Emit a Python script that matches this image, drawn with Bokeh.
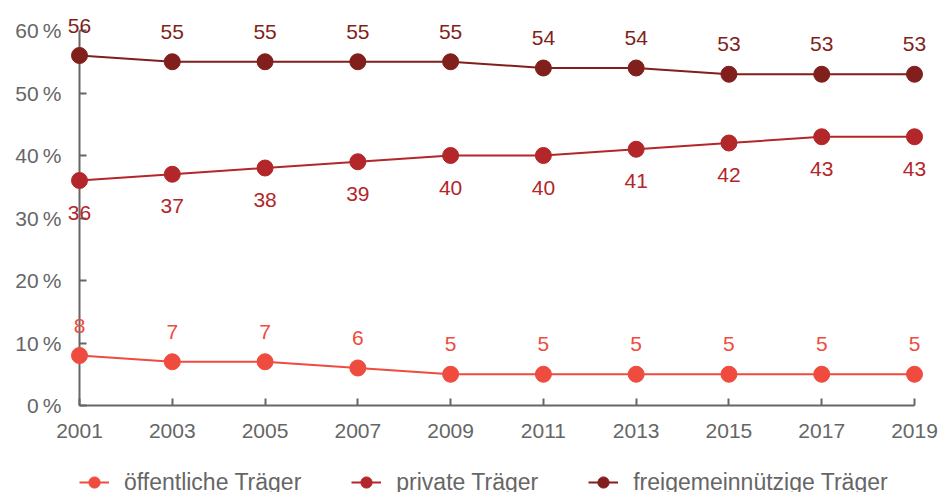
from bokeh.plotting import figure
from bokeh.layouts import column
from bokeh.models import Range1d, FixedTicker, Legend, LegendItem, ColumnDataSource
from bokeh.core.properties import value
from bokeh.embed import file_html
from bokeh.resources import INLINE

years = [2001, 2003, 2005, 2007, 2009, 2011, 2013, 2015, 2017, 2019]
oeffentlich = [8, 7, 7, 6, 5, 5, 5, 5, 5, 5]
privat = [36, 37, 38, 39, 40, 40, 41, 42, 43, 43]
freigemeinnuetzig = [56, 55, 55, 55, 55, 54, 54, 53, 53, 53]
series_names = ["öffentliche Träger", "private Träger", "freigemeinnützige Träger"]
y_ticks = [0, 10, 20, 30, 40, 50, 60]
y_tick_labels = ["0\u2009%", "10\u2009%", "20\u2009%", "30\u2009%", "40\u2009%", "50\u2009%", "60\u2009%"]

colors = ["#EF4B3F", "#B3262A", "#801F1B"]
label_offsets = [-30, 32, -30]
FONT = "Liberation Sans"
GRAY = "#666666"

p = figure(width=939, height=456, output_backend="svg", toolbar_location=None,
           x_range=Range1d(2001, 2019), y_range=Range1d(0, 60),
           min_border_left=79, min_border_top=30, min_border_right=25, min_border_bottom=51)
p.outline_line_color = None
p.xgrid.grid_line_color = None
p.ygrid.grid_line_color = None
p.background_fill_color = "white"

for ax in (p.xaxis[0], p.yaxis[0]):
    ax.axis_line_color = GRAY
    ax.axis_line_width = 2
    ax.major_tick_line_color = GRAY
    ax.major_tick_line_width = 2
    ax.major_tick_in = 7
    ax.major_tick_out = 0
    ax.minor_tick_line_color = None
    ax.major_label_text_font = FONT
    ax.major_label_text_font_size = "21px"
    ax.major_label_text_color = GRAY

p.xaxis.ticker = FixedTicker(ticks=years)
p.xaxis.major_label_standoff = 18
p.yaxis.ticker = FixedTicker(ticks=y_ticks)
p.yaxis.major_label_overrides = {t: l for t, l in zip(y_ticks, y_tick_labels)}
p.yaxis.major_label_standoff = 18

series = [oeffentlich, privat, freigemeinnuetzig]
for vals, col, off in zip(series, colors, label_offsets):
    src = ColumnDataSource(dict(x=years, y=vals, t=[str(v) for v in vals]))
    p.line("x", "y", source=src, line_color=col, line_width=2, level="overlay")
    p.scatter("x", "y", source=src, size=16, fill_color=col, line_color=col, level="overlay")
    p.text("x", "y", text="t", source=src, text_color=col, text_font=value(FONT),
           text_font_size="21px", text_align="center", text_baseline="middle",
           y_offset=off, level="overlay")

# Legend strip below the chart (proxy renderers kept out of view)
pl = figure(width=939, height=40, output_backend="svg", toolbar_location=None,
            x_range=Range1d(2001, 2019), y_range=Range1d(-200, -100),
            x_axis_type=None, y_axis_type=None, min_border=0)
pl.outline_line_color = None
pl.xgrid.grid_line_color = None
pl.ygrid.grid_line_color = None

items = []
for vals, name, col in zip(series, series_names, colors):
    r1 = pl.line(x=years, y=vals, line_color=col, line_width=2)
    r2 = pl.scatter(x=years, y=vals, size=11, fill_color=col, line_color=col)
    items.append(LegendItem(label=name, renderers=[r1, r2]))

legend = Legend(items=items, orientation="horizontal", location=(0, 0),
                label_text_font=FONT, label_text_font_size="23px", label_text_color=GRAY,
                glyph_width=30, glyph_height=28, label_standoff=15, spacing=50,
                border_line_color=None, background_fill_alpha=0, padding=0, margin=0)
pl.add_layout(legend)

layout = column(p, pl, spacing=0)
open("out.html", "w").write(file_html(layout, INLINE))
